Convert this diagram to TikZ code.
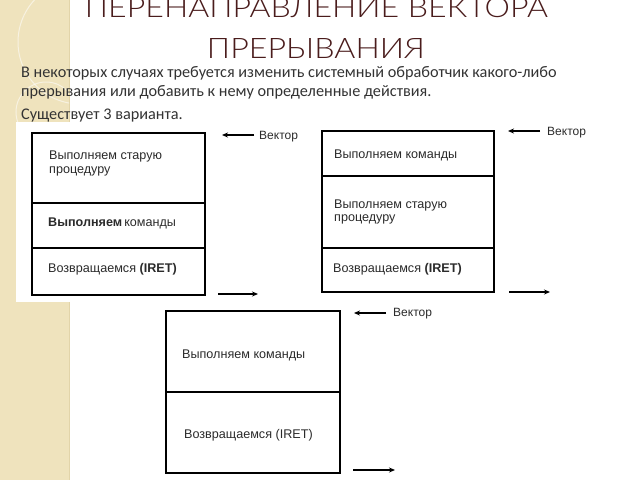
\documentclass[tikz,border=0pt]{standalone}
\usepackage{fontspec}
\setmainfont{Carlito}
\newfontfamily\titlefont{Lato Light}
\newfontfamily\arialf{Liberation Sans}
\usetikzlibrary{arrows.meta}
\definecolor{beige}{HTML}{EFE3BD}
\definecolor{beigeedge}{HTML}{E2D4A9}
\definecolor{titlecol}{HTML}{4A1C1C}
\definecolor{bodycol}{HTML}{333333}
\definecolor{diagtext}{HTML}{2B2B2B}
\begin{document}
\begin{tikzpicture}[x=1pt,y=-1pt,
  cell/.style={draw=black, line width=1.2pt, inner sep=0pt, outer sep=0pt, anchor=north west, fill=white},
  celltext/.style={anchor=base west, inner sep=0pt, font=\arialf\fontsize{12.6}{15}\selectfont, text=diagtext},
  vectext/.style={anchor=base west, inner sep=0pt, font=\arialf\fontsize{12}{14}\selectfont, text=diagtext},
  ptr/.style={line width=1.1pt, -{Stealth[length=6pt,width=5pt]}},
  bodytext/.style={anchor=base west, inner sep=0pt, font=\fontsize{16.25}{20}\selectfont, text=bodycol},
  titletext/.style={anchor=base, inner sep=0pt, text=titlecol},
]
\useasboundingbox (0,0) rectangle (640,480);
\fill[white] (0,0) rectangle (640,480);
% left decorative stripe
\fill[beige] (0,0) rectangle (70,480);
\draw[beigeedge, line width=1pt] (69.5,0) -- (69.5,480);
\begin{scope}
  \clip (0,0) rectangle (69,480);
  \draw[white, opacity=0.55, line width=1pt] (80,42) circle (62pt);
  \draw[white, opacity=0.55, line width=1pt] (46,112) circle (30pt);
\end{scope}

% title
\node[titletext] (title1) at (316.5,17) {\resizebox{463pt}{20pt}{\titlefont ПЕРЕНАПРАВЛЕНИЕ ВЕКТОРА}};
\node[titletext] (title2) at (316,58) {\resizebox{218pt}{20pt}{\titlefont ПРЕРЫВАНИЯ}};

% body text
\node[bodytext] (p1) at (21,77) {В некоторых случаях требуется изменить системный обработчик какого-либо};
\node[bodytext] (p2) at (21,96) {прерывания или добавить к нему определенные действия.};
\node[bodytext] (p3) at (21,119) {Существует 3 варианта.};

% white picture panel of the first scheme
\fill[white] (16,122) rectangle (75,302);

% ---------- scheme 1 ----------
\node[cell, minimum width=173pt, minimum height=70pt] (d1a) at (32,133) {};
\node[cell, minimum width=173pt, minimum height=45pt] (d1b) at (32,203) {};
\node[cell, minimum width=173pt, minimum height=47pt] (d1c) at (32,248) {};
\node[celltext] (t1a1) at (49,159) {Выполняем старую};
\node[celltext] (t1a2) at (49,173) {процедуру};
\node[celltext] (t1b) at (48,226) {\textbf{Выполняем}\,команды};
\node[celltext] (t1c) at (48,272) {Возвращаемся \textbf{(IRET)}};
\node[vectext] (vec1) at (259,139) {Вектор};
\coordinate (v1s) at (254,135);
\coordinate (v1e) at (222,135);
\draw[ptr] (v1s) -- (v1e);
\coordinate (r1s) at (218,294);
\coordinate (r1e) at (258,294);
\draw[ptr] (r1s) -- (r1e);

% ---------- scheme 2 ----------
\node[cell, minimum width=172pt, minimum height=45pt] (d2a) at (322,131) {};
\node[cell, minimum width=172pt, minimum height=72pt] (d2b) at (322,176) {};
\node[cell, minimum width=172pt, minimum height=44pt] (d2c) at (322,248) {};
\node[celltext] (t2a) at (334,158) {Выполняем команды};
\node[celltext] (t2b1) at (334,208) {Выполняем старую};
\node[celltext] (t2b2) at (334,221) {процедуру};
\node[celltext] (t2c) at (333,272) {Возвращаемся \textbf{(IRET)}};
\node[vectext] (vec2) at (547,135) {Вектор};
\coordinate (v2s) at (540,131);
\coordinate (v2e) at (508,131);
\draw[ptr] (v2s) -- (v2e);
\coordinate (r2s) at (509,292);
\coordinate (r2e) at (550,292);
\draw[ptr] (r2s) -- (r2e);

% ---------- scheme 3 ----------
\node[cell, minimum width=174pt, minimum height=81pt] (d3a) at (166,311) {};
\node[cell, minimum width=174pt, minimum height=81pt] (d3b) at (166,392) {};
\node[celltext] (t3a) at (182,358) {Выполняем команды};
\node[celltext] (t3b) at (184,438) {Возвращаемся (IRET)};
\node[vectext] (vec3) at (393,316) {Вектор};
\coordinate (v3s) at (386,313);
\coordinate (v3e) at (354,313);
\draw[ptr] (v3s) -- (v3e);
\coordinate (r3s) at (353,470);
\coordinate (r3e) at (395,470);
\draw[ptr] (r3s) -- (r3e);
\end{tikzpicture}
\end{document}
